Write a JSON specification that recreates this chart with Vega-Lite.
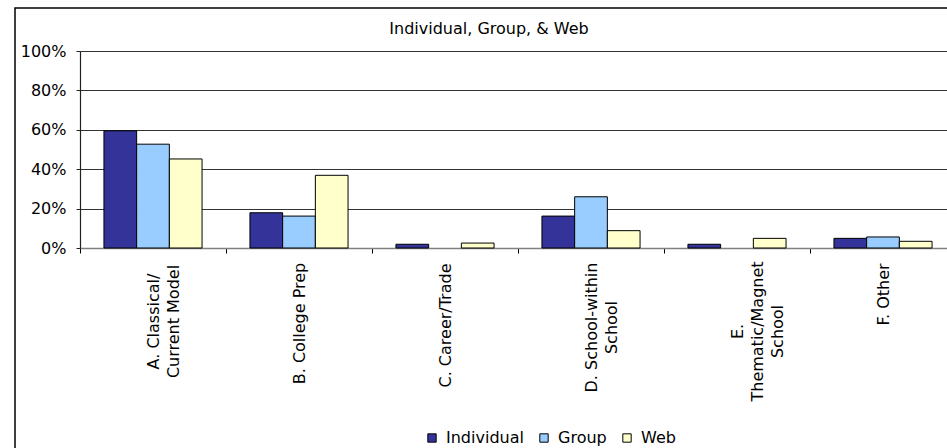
{
  "$schema": "https://vega.github.io/schema/vega-lite/v6.json",
  "width": 960,
  "height": 460,
  "autosize": {"type": "none"},
  "padding": {"left": 15, "top": 8, "right": -28, "bottom": -20},
  "background": "white",
  "title": {
    "text": "Individual, Group, & Web",
    "font": "DejaVu Sans",
    "fontSize": 16,
    "fontWeight": "normal",
    "color": "#000",
    "anchor": "middle",
    "frame": "group",
    "orient": "top",
    "baseline": "alphabetic",
    "offset": -42,
    "dx": -6
  },
  "data": {
    "values": [
      {"model": "A. Classical/\nCurrent Model", "source": "Individual", "share": 0.595},
      {"model": "A. Classical/\nCurrent Model", "source": "Group", "share": 0.527},
      {"model": "A. Classical/\nCurrent Model", "source": "Web", "share": 0.452},
      {"model": "B. College Prep", "source": "Individual", "share": 0.179},
      {"model": "B. College Prep", "source": "Group", "share": 0.162},
      {"model": "B. College Prep", "source": "Web", "share": 0.369},
      {"model": "C. Career/Trade", "source": "Individual", "share": 0.019},
      {"model": "C. Career/Trade", "source": "Web", "share": 0.025},
      {"model": "D. School-within\nSchool", "source": "Individual", "share": 0.162},
      {"model": "D. School-within\nSchool", "source": "Group", "share": 0.26},
      {"model": "D. School-within\nSchool", "source": "Web", "share": 0.088},
      {"model": "E.\nThematic/Magnet\nSchool", "source": "Individual", "share": 0.019},
      {"model": "E.\nThematic/Magnet\nSchool", "source": "Web", "share": 0.049},
      {"model": "F. Other", "source": "Individual", "share": 0.049},
      {"model": "F. Other", "source": "Group", "share": 0.056},
      {"model": "F. Other", "source": "Web", "share": 0.034}
    ]
  },
  "mark": {"type": "bar", "stroke": "#000", "strokeWidth": 1},
  "encoding": {
    "x": {
      "field": "model",
      "type": "nominal",
      "sort": null,
      "scale": {"range": [65, 941], "paddingInner": 0, "paddingOuter": 0},
      "axis": {
        "title": null,
        "orient": "bottom",
        "offset": -220,
        "tickBand": "extent",
        "tickSize": 5,
        "tickColor": "#000",
        "domainColor": "#808080",
        "domainWidth": 1.5,
        "grid": false,
        "labelAngle": -90,
        "labelAlign": "center",
        "labelBaseline": "middle",
        "labelFont": "DejaVu Sans",
        "labelFontSize": 16,
        "labelColor": "#000",
        "labelLineHeight": 20,
        "labelExpr": "split(datum.label, '\\n')",
        "labelPadding": {
          "condition": [
            {"test": "indexof(datum.value + '', 'Classical') >= 0", "value": 68},
            {"test": "indexof(datum.value + '', 'College') >= 0", "value": 70},
            {"test": "indexof(datum.value + '', 'Career') >= 0", "value": 72},
            {"test": "indexof(datum.value + '', 'within') >= 0", "value": 74},
            {"test": "indexof(datum.value + '', 'Thematic') >= 0", "value": 78}
          ],
          "value": 41
        }
      }
    },
    "xOffset": {
      "field": "source",
      "type": "nominal",
      "scale": {"domain": ["Individual", "Group", "Web"], "paddingInner": 0, "paddingOuter": 0.732}
    },
    "y": {
      "field": "share",
      "type": "quantitative",
      "scale": {"domain": [0, 1], "range": [240, 43], "nice": false},
      "axis": {
        "title": null,
        "orient": "left",
        "offset": -65,
        "values": [0, 0.2, 0.4, 0.6, 0.8, 1],
        "format": ".0%",
        "grid": true,
        "gridColor": "#333333",
        "gridWidth": 1.2,
        "domainColor": "#222",
        "domainWidth": 1.2,
        "tickColor": "#222",
        "tickSize": 4,
        "labelFont": "DejaVu Sans",
        "labelFontSize": 16,
        "labelColor": "#000",
        "labelPadding": 10
      }
    },
    "color": {
      "field": "source",
      "type": "nominal",
      "scale": {"domain": ["Individual", "Group", "Web"], "range": ["#333399", "#99ccff", "#ffffcc"]},
      "legend": {
        "title": null,
        "orient": "none",
        "direction": "horizontal",
        "legendX": 409,
        "legendY": 422,
        "padding": 0,
        "symbolType": "square",
        "symbolSize": 70,
        "symbolStrokeColor": "#000",
        "symbolStrokeWidth": 1,
        "labelFont": "DejaVu Sans",
        "labelFontSize": 16,
        "labelColor": "#000",
        "labelOffset": 6,
        "columnPadding": 12
      }
    }
  },
  "config": {
    "view": {"stroke": "#000", "strokeWidth": 1.5, "fill": "white"}
  }
}
